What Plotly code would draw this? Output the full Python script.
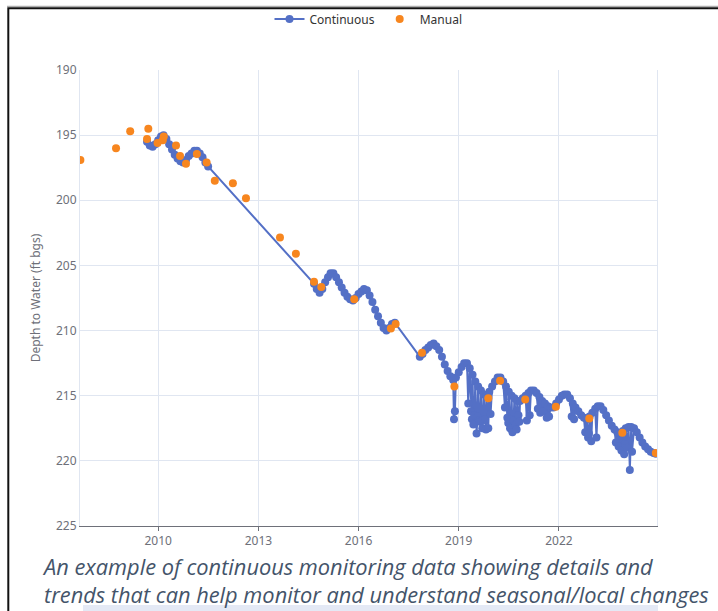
import pandas as pd
import plotly.graph_objects as go

# ---------------- data ----------------
cont_dates = [
    # 2009-2011 record
    "2009-09-01", "2009-10-01", "2009-11-01", "2009-12-01", "2010-01-01", "2010-02-01",
    "2010-03-01", "2010-04-01", "2010-05-01", "2010-06-01", "2010-07-01", "2010-08-01",
    "2010-09-01", "2010-10-01", "2010-11-01", "2010-12-01", "2011-01-01", "2011-02-01",
    "2011-03-01", "2011-04-01", "2011-05-01", "2011-06-01", "2011-07-01",
    # 2014-2017 record
    "2014-09-01", "2014-10-01", "2014-11-01", "2014-12-01", "2015-01-01", "2015-02-01",
    "2015-03-01", "2015-04-01", "2015-05-01", "2015-06-01", "2015-07-01", "2015-08-01",
    "2015-09-01", "2015-10-01", "2015-11-01", "2015-12-01", "2016-01-01", "2016-02-01",
    "2016-03-01", "2016-04-01", "2016-05-01", "2016-06-01", "2016-07-01", "2016-08-01",
    "2016-09-01", "2016-10-01", "2016-11-01", "2016-12-01", "2017-01-01", "2017-02-01",
    # 2017-2024 record
    "2017-11-01", "2017-12-01",
    "2018-01-01", "2018-02-01", "2018-03-01", "2018-04-01", "2018-05-01", "2018-06-01",
    "2018-07-01", "2018-08-01", "2018-09-01", "2018-10-01", "2018-11-01", "2018-12-01",
    "2019-01-01", "2019-02-01", "2019-03-01", "2019-04-01", "2019-05-01", "2019-06-01",
    "2019-07-01", "2019-08-01", "2019-09-01", "2019-10-01", "2019-11-01", "2019-12-01",
    "2020-01-01", "2020-02-01", "2020-03-01", "2020-04-01", "2020-05-01", "2020-06-01",
    "2020-07-01", "2020-08-01", "2020-09-01", "2020-10-01", "2020-11-01", "2020-12-01",
    "2021-01-01", "2021-02-01", "2021-03-01", "2021-04-01", "2021-05-01", "2021-06-01",
    "2021-07-01", "2021-08-01", "2021-09-01", "2021-10-01", "2021-11-01", "2021-12-01",
    "2022-01-01", "2022-02-01", "2022-03-01", "2022-04-01", "2022-05-01", "2022-06-01",
    "2022-07-01", "2022-08-01", "2022-09-01", "2022-10-01", "2022-11-01", "2022-12-01",
    "2023-01-01", "2023-02-01", "2023-03-01", "2023-04-01", "2023-05-01", "2023-06-01",
    "2023-07-01", "2023-08-01", "2023-09-01", "2023-10-01", "2023-11-01", "2023-12-01",
    "2024-01-01", "2024-02-01", "2024-03-01", "2024-04-01", "2024-05-01", "2024-06-01",
    "2024-07-01", "2024-08-01", "2024-09-01", "2024-10-01", "2024-11-01", "2024-11-25",
]
cont_depth = [
    195.5, 195.8, 195.9, 195.7, 195.4, 195.1,
    195.0, 195.3, 195.7, 196.1, 196.5, 196.8,
    197.0, 197.1, 196.9, 196.6, 196.4, 196.2,
    196.2, 196.4, 196.7, 197.1, 197.4,
    206.4, 206.8, 207.1, 206.8, 206.3, 205.9,
    205.6, 205.6, 205.9, 206.3, 206.7, 207.1,
    207.4, 207.6, 207.7, 207.5, 207.2, 207.0,
    206.8, 206.9, 207.3, 207.8, 208.4, 208.9,
    209.4, 209.8, 210.0, 209.8, 209.5, 209.4,
    212.0, 211.8,
    211.5, 211.3, 211.1, 211.0, 211.2, 211.5,
    212.0, 212.6, 213.1, 213.5, 213.8, 213.6,
    213.2, 212.8, 212.5, 212.5, 212.9, 213.4,
    213.9, 214.3, 214.6, 214.9, 215.0, 214.7,
    214.3, 213.9, 213.6, 213.6, 213.9, 214.3,
    214.7, 215.0, 215.2, 215.4, 215.4, 215.2,
    215.0, 214.8, 214.6, 214.6, 214.8, 215.1,
    215.4, 215.6, 215.8, 215.9, 215.9, 215.6,
    215.3, 215.0, 214.9, 214.9, 215.2, 215.6,
    215.9, 216.2, 216.5, 216.7, 216.8, 216.6,
    216.3, 216.0, 215.8, 215.8, 216.1, 216.5,
    216.9, 217.3, 217.6, 217.8, 217.9, 217.7,
    217.5, 217.4, 217.4, 217.5, 217.8, 218.2,
    218.6, 218.9, 219.1, 219.3, 219.4, 219.45,
]

# short-lived drawdown spikes in the continuous record
spike_dates = [
    "2018-11-10", "2018-11-20",
    "2019-04-15", "2019-05-15", "2019-05-25", "2019-06-10", "2019-06-22", "2019-07-15",
    "2019-07-25", "2019-08-10", "2019-08-20", "2019-09-15", "2019-09-25", "2019-10-15",
    "2019-10-25", "2019-11-20", "2019-12-15",
    "2020-05-20", "2020-06-15", "2020-06-25", "2020-07-15", "2020-07-25", "2020-08-10",
    "2020-08-22", "2020-09-15", "2020-09-25", "2020-10-15", "2020-10-25",
    "2021-01-15", "2021-02-15", "2021-05-15", "2021-06-10", "2021-07-15", "2021-08-20",
    "2021-09-15",
    "2022-05-20", "2022-06-15", "2022-10-15", "2022-11-15", "2022-11-25", "2022-12-20",
    "2023-02-15",
    "2023-09-15", "2023-10-15", "2023-11-15", "2023-12-15", "2023-12-25", "2024-01-15",
    "2024-02-15", "2024-03-10",
]
spike_depth = [
    216.8, 216.2,
    215.6, 216.2, 216.8, 217.2, 216.5, 217.9,
    216.6, 216.9, 217.0, 217.5, 216.9, 216.8,
    217.6, 217.5, 216.4,
    215.9, 216.7, 217.1, 217.5, 216.8, 217.8,
    216.9, 217.2, 217.6, 216.5, 217.0,
    216.9, 216.5, 216.0, 216.3, 216.2, 216.7,
    216.6,
    216.6, 216.8, 217.8, 218.2, 217.9, 218.5,
    218.2,
    218.6, 218.9, 219.2, 219.5, 218.7, 219.0,
    220.7, 219.3,
]

manual_dates = [
    "2007-09-03", "2008-09-27", "2009-03-01", "2009-09-15", "2009-09-01", "2009-12-25",
    "2010-03-03", "2010-02-20", "2010-07-15", "2010-08-28", "2010-11-01", "2011-02-28",
    "2011-06-15", "2011-09-12", "2012-03-28", "2012-08-18", "2013-08-25", "2014-02-15",
    "2014-09-01", "2014-11-20", "2015-11-15", "2016-12-20", "2017-02-10", "2017-11-25",
    "2018-11-14", "2019-11-20", "2020-03-28", "2020-12-28", "2021-11-28", "2022-11-28",
    "2023-11-25", "2024-11-25",
]
manual_depth = [
    196.9, 196.0, 194.7, 194.5, 195.3, 195.6,
    195.1, 195.4, 195.8, 196.6, 197.2, 196.45,
    197.1, 198.5, 198.7, 199.85, 202.85, 204.1,
    206.25, 206.65, 207.6, 209.85, 209.5, 211.7,
    214.3, 215.2, 213.85, 215.3, 215.85, 216.75,
    217.85, 219.4,
]

year_ticks = ["2010", "2013", "2016", "2019", "2022"]
depth_ticks = [190, 195, 200, 205, 210, 215, 220, 225]

caption_lines = [
    "An example of continuous monitoring data showing details and",
    "trends that can help monitor and understand seasonal/local changes",
]

# ---------------- build ----------------
cont = pd.DataFrame({
    "date": pd.to_datetime(cont_dates + spike_dates),
    "depth": cont_depth + spike_depth,
}).sort_values("date", kind="stable")

BLUE = "#5470C6"
ORANGE = "#F7861F"
AXIS_GREY = "#6E7079"
GRID = "#E0E6F1"

W, H = 718, 611
L, R, T, B = 80, 61, 70, 85
PW, PH = W - L - R, H - T - B


def px(x):
    return (x - L) / PW


def py(y):
    return (H - B - y) / PH


fig = go.Figure()
fig.add_trace(go.Scatter(
    x=cont["date"], y=cont["depth"], name="Continuous",
    mode="lines+markers",
    line=dict(color=BLUE, width=2),
    marker=dict(color=BLUE, size=8),
))
fig.add_trace(go.Scatter(
    x=pd.to_datetime(manual_dates), y=manual_depth, name="Manual",
    mode="markers",
    marker=dict(color=ORANGE, size=8),
))

font_family = "Noto Sans, DejaVu Sans, sans-serif"

fig.update_layout(
    width=W, height=H,
    margin=dict(l=L, r=R, t=T, b=B, autoexpand=False),
    paper_bgcolor="white", plot_bgcolor="white",
    font=dict(family=font_family, size=12, color=AXIS_GREY),
    showlegend=True,
    legend=dict(
        orientation="h", x=0.5, xanchor="center", y=py(19), yanchor="middle",
        font=dict(size=12, color="#333333"), itemwidth=30,
        bgcolor="rgba(0,0,0,0)",
    ),
    xaxis=dict(
        type="date",
        range=["2007-08-30", "2024-12-08"],
        tickvals=[f"{y}-01-01" for y in year_ticks],
        ticktext=year_ticks,
        showgrid=True, gridcolor=GRID, gridwidth=1,
        showline=True, linecolor=AXIS_GREY, linewidth=1,
        ticks="outside", ticklen=4, tickcolor=AXIS_GREY,
        tickfont=dict(size=12, color=AXIS_GREY),
        zeroline=False,
    ),
    yaxis=dict(
        range=[225, 190],
        tickvals=depth_ticks,
        showgrid=True, gridcolor=GRID, gridwidth=1,
        showline=True, linecolor=GRID, linewidth=1, mirror=True,
        ticks="", tickfont=dict(size=12, color=AXIS_GREY),
        zeroline=False,
        title=dict(text="Depth to Water (ft bgs)", font=dict(size=12, color=AXIS_GREY), standoff=12),
    ),
)

# screenshot frame and footer band
fig.add_shape(type="line", xref="paper", yref="paper",
              x0=px(7), x1=px(720), y0=py(6.3), y1=py(6.3),
              line=dict(color="#9A9A9A", width=1))
fig.add_shape(type="path", xref="paper", yref="paper",
              path=f"M {px(8.3)},{py(615)} L {px(8.3)},{py(8.3)} L {px(720)},{py(8.3)}",
              line=dict(color="#111111", width=2))
fig.add_shape(type="rect", xref="paper", yref="paper",
              x0=px(83), x1=px(658), y0=py(611), y1=py(605),
              fillcolor="#E4E9F5", line=dict(width=0))

fig.add_annotation(
    text="<br>".join(caption_lines), xref="paper", yref="paper",
    x=px(40), y=py(580), xanchor="left", yanchor="middle", align="left",
    showarrow=False,
    font=dict(family="Open Sans, Noto Sans, sans-serif", size=21.8,
              color="#44546A", style="italic"),
)

fig.write_html("out.html", config={"displayModeBar": False},
               post_script="document.body.style.margin='0px';")
